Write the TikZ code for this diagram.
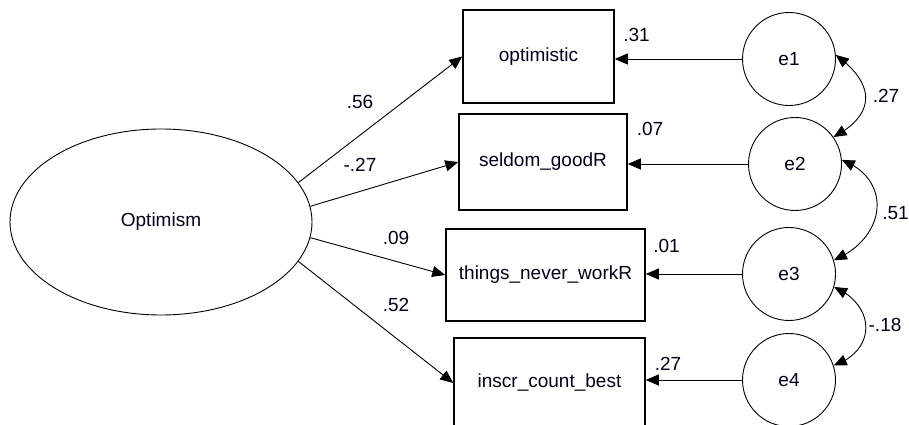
\documentclass[tikz,border=0pt]{standalone}
\usepackage{fontspec}
\setmainfont{Liberation Sans}
\usetikzlibrary{shapes.geometric,arrows.meta,bending}

\begin{document}
\begin{tikzpicture}[x=1pt,y=1pt,
  every node/.style={font=\fontsize{19}{22}\selectfont, text=black!90!blue},
  obsbox/.style={draw, line width=1.5pt, inner sep=0pt},
  latent/.style={draw, ellipse, line width=0.9pt, inner sep=0pt,
                 minimum width=302pt, minimum height=186pt},
  errc/.style={draw, circle, line width=0.9pt, inner sep=0pt, minimum size=93pt},
  regpath/.style={line width=0.9pt, -{Triangle[length=13pt,width=11pt]}},
  covpath/.style={line width=0.9pt,
                  {Triangle[length=13pt,width=11pt,flex]}-{Triangle[length=13pt,width=11pt,flex]}},
  coef/.style={inner sep=0pt}]

  \useasboundingbox (0,0) rectangle (909,425);
  \clip (0,0) rectangle (909,425);

  % latent factor
  \node[latent] (opt) at (161,203) {Optimism};

  % observed indicators
  \node[obsbox, minimum width=151pt, minimum height=93pt] (b1) at (538.5,368.5) {optimistic};
  \node[obsbox, minimum width=168pt, minimum height=96pt] (b2) at (543,263) {seldom\_goodR};
  \node[obsbox, minimum width=199pt, minimum height=92pt] (b3) at (545.5,150) {things\_never\_workR};
  \node[obsbox, minimum width=191pt, minimum height=90pt] (b4) at (549.5,42) {inscr\_count\_best};

  % error terms
  \node[errc] (e1) at (789,366) {e1};
  \node[errc] (e2) at (795,261) {e2};
  \node[errc] (e3) at (789,151) {e3};
  \node[errc] (e4) at (789,45) {e4};

  % factor loadings
  \draw[regpath] (opt.16) -- (b1.west);
  \draw[regpath] (opt.6) -- (b2.west);
  \draw[regpath] (opt.-6) -- (b3.west);
  \draw[regpath] (opt.-16) -- (b4.west);

  % error paths
  \draw[regpath] (e1.west) -- (e1.west -| b1.east);
  \draw[regpath] (e2.west) -- (e2.west -| b2.east);
  \draw[regpath] (e3.west) -- (e3.west -| b3.east);
  \draw[regpath] (e4.west) -- (e4.west -| b4.east);

  % error covariances
  \draw[covpath] (e1.5) .. controls (877,340) and (875,310) .. (e2.35);
  \draw[covpath] (e2.5) .. controls (892,246) and (888,188) .. (e3.17);
  \draw[covpath] (e3.-16) .. controls (877,119) and (876,74) .. (e4.18);

  % coefficients
  \node[coef] (l1) at (360,323) {.56};
  \node[coef] (l2) at (360,260) {-.27};
  \node[coef] (l3) at (396,187) {.09};
  \node[coef] (l4) at (396,120) {.52};

  \node[coef] (r1) at (636.5,390) {.31};
  \node[coef] (r2) at (650,296) {.07};
  \node[coef] (r3) at (666.5,179) {.01};
  \node[coef] (r4) at (668,61.5) {.27};

  \node[coef] (c12) at (886,329.5) {.27};
  \node[coef] (c23) at (895.5,212) {.51};
  \node[coef] (c34) at (885,100) {-.18};
\end{tikzpicture}
\end{document}
